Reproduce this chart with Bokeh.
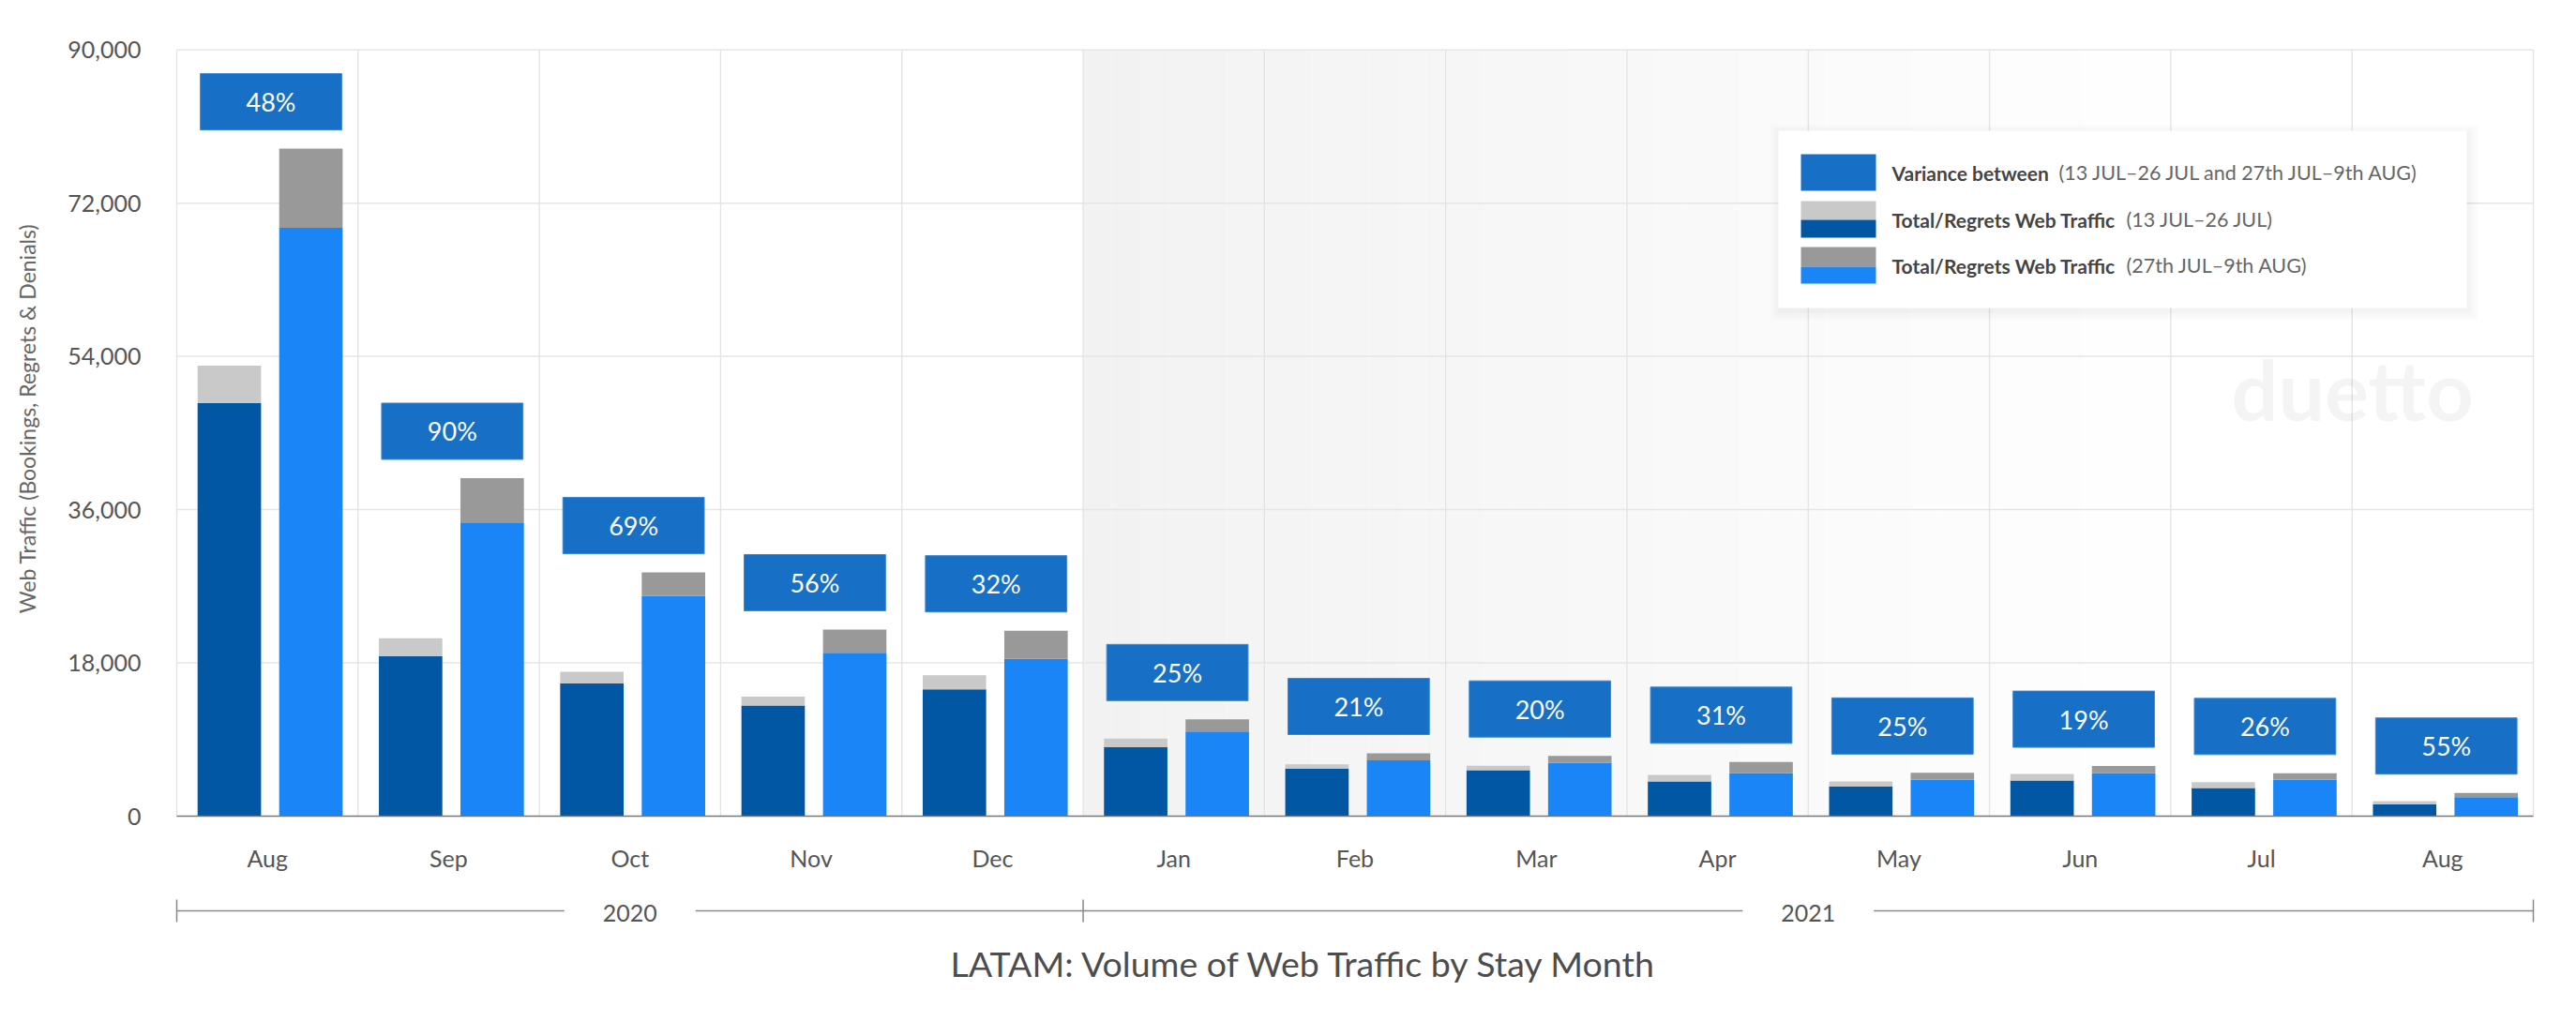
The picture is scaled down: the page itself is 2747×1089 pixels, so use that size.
import math
from bokeh.plotting import figure
from bokeh.models import Range1d, FixedTicker, ColumnDataSource, NumeralTickFormatter
from bokeh.embed import file_html
from bokeh.resources import INLINE
from bokeh.core.properties import value

# ---------------- data ----------------
months = ["Aug", "Sep", "Oct", "Nov", "Dec", "Jan", "Feb", "Mar", "Apr", "May", "Jun", "Jul", "Aug"]
# period 1 : 13 JUL-26 JUL   (blue part and total incl. regrets)
p1_traffic = [48500, 18800, 15600, 13000, 14900, 8100, 5580, 5400, 4080, 3490, 4190, 3300, 1400]
p1_total = [52900, 20900, 16950, 14050, 16550, 9110, 6090, 5910, 4850, 4070, 4960, 4000, 1760]
# period 2 : 27th JUL-9th AUG
p2_traffic = [69100, 34500, 25850, 19200, 18470, 9950, 6540, 6240, 5070, 4270, 5070, 4260, 2240]
p2_total = [78400, 39700, 28620, 21920, 21780, 11360, 7380, 7080, 6350, 5080, 5880, 5030, 2730]
variance_labels = ["48%", "90%", "69%", "56%", "32%", "25%", "21%", "20%", "31%", "25%", "19%", "26%", "55%"]
years = ["2020", "2021"]
year_first = [0, 5]
year_last = [4, 12]
y_ticks = [0, 18000, 36000, 54000, 72000, 90000]
legend_bold = ["Variance between", "Total/Regrets Web Traffic", "Total/Regrets Web Traffic"]
legend_rest = ["(13 JUL\u201326 JUL and 27th JUL\u20139th AUG)", "(13 JUL\u201326 JUL)", "(27th JUL\u20139th AUG)"]

# ---------------- layout (page pixels) ----------------
W, H = 2747, 1089
PL, PR = 188, 2701          # x of first / last category boundary
P90, P0 = 52.7, 870         # y of 90000 and of 0
YMAX = 90000.0
N = len(months)
UPP = YMAX / (P0 - P90)     # data units per px
PX = N / (PR - PL)          # data x per px


def X(px):
    return -0.5 + (px - PL) * PX


def Y(py):
    return (P0 - py) * UPP


FONT = value("Lato")
DARK_BLUE = "#0157a3"
LIGHT_BLUE = "#1985f7"
GRAY1 = "#c9c9c9"
GRAY2 = "#999999"
BOX = "#176fc6"
GRID = "#e6e6e6"

p = figure(width=W, height=H, output_backend="svg", toolbar_location=None,
           x_range=Range1d(X(0), X(W)), y_range=Range1d(Y(H), Y(0)),
           min_border_left=0, min_border_right=0, min_border_top=0, min_border_bottom=0, tools="")
p.outline_line_color = None
p.background_fill_color = "white"
p.border_fill_color = "white"
p.xgrid.visible = False
p.ygrid.visible = False

# y axis, pinned to the left boundary of the category area
p.yaxis.fixed_location = -0.5
p.yaxis.ticker = FixedTicker(ticks=y_ticks)
p.yaxis.formatter = NumeralTickFormatter(format="0,0")
p.yaxis.axis_line_color = None
p.yaxis.major_tick_line_color = None
p.yaxis.minor_tick_line_color = None
p.yaxis.major_tick_out = 0
p.yaxis.major_tick_in = 0
p.yaxis.major_label_standoff = 38
p.yaxis.major_label_text_font = "Lato"
p.yaxis.major_label_text_font_size = "25px"
p.yaxis.major_label_text_color = "#555555"

# x axis at y = 0 with month labels
p.xaxis.fixed_location = 0
p.xaxis.bounds = (-0.5, N - 0.5)
p.xaxis.ticker = FixedTicker(ticks=list(range(N)))
p.xaxis.major_label_overrides = {i: m for i, m in enumerate(months)}
p.xaxis.major_tick_line_color = None
p.xaxis.minor_tick_line_color = None
p.xaxis.major_tick_out = 0
p.xaxis.major_tick_in = 0
p.xaxis.axis_line_color = "#777777"
p.xaxis.axis_line_width = 1.5
p.xaxis.major_label_standoff = 29
p.xaxis.major_label_text_font = "Lato"
p.xaxis.major_label_text_font_size = "25px"
p.xaxis.major_label_text_color = "#555555"

# shaded gradient band for 2021 months
steps = 40
g_start, g_end = 4.5, 10.8
lefts, rights, cols = [], [], []
for k in range(steps):
    a = g_start + (g_end - g_start) * k / steps
    b = g_start + (g_end - g_start) * (k + 1) / steps
    v = int(round(242 + (255 - 242) * (k + 0.5) / steps))
    lefts.append(a)
    rights.append(b)
    cols.append("#%02x%02x%02x" % (v, v, v))
rg = p.quad(left=lefts, right=rights, bottom=0, top=YMAX, fill_color=cols, line_color=None)
rg.level = "image"

# horizontal grid lines
p.segment(x0=[-0.5] * len(y_ticks[1:]), y0=y_ticks[1:], x1=[N - 0.5] * len(y_ticks[1:]), y1=y_ticks[1:],
          line_color=GRID, line_width=1.5)
# vertical grid lines at category boundaries
bounds = [i - 0.5 for i in range(N + 1)]
p.segment(x0=bounds, y0=[0] * len(bounds), x1=bounds, y1=[YMAX] * len(bounds),
          line_color="#e3e3e3", line_width=1.3)

# watermark
p.text(x=[X(2379)], y=[Y(414)], text=["duetto"], text_font=FONT, text_font_style="bold",
       text_font_size=value("88px"), text_color="#000000", text_alpha=0.045,
       text_align="left", text_baseline="alphabetic")

# bars
idx = list(range(N))
src = ColumnDataSource(dict(
    x1=[i - 0.21 for i in idx], x2=[i + 0.24 for i in idx],
    t1=p1_traffic, tot1=p1_total, t2=p2_traffic, tot2=p2_total,
))
BW = 0.35
p.vbar(x="x1", width=BW, bottom=0, top="t1", source=src, fill_color=DARK_BLUE, line_color=None)
p.vbar(x="x1", width=BW, bottom="t1", top="tot1", source=src, fill_color=GRAY1, line_color=None)
p.vbar(x="x2", width=BW, bottom=0, top="t2", source=src, fill_color=LIGHT_BLUE, line_color=None)
p.vbar(x="x2", width=BW, bottom="t2", top="tot2", source=src, fill_color=GRAY2, line_color=None)

# variance boxes above each pair
GAP_PX, BOX_PX = 20, 60
box_bottom = [max(a, b) + GAP_PX * UPP for a, b in zip(p1_total, p2_total)]
box_top = [b + BOX_PX * UPP for b in box_bottom]
box_mid = [(a + b) / 2 for a, b in zip(box_bottom, box_top)]
bsrc = ColumnDataSource(dict(x=[i + 0.02 for i in idx], b=box_bottom, t=box_top, m=box_mid,
                             lab=variance_labels))
p.vbar(x="x", width=0.78, bottom="b", top="t", source=bsrc, fill_color=BOX, line_color="#3d86d0",
       line_width=1)
p.text(x="x", y="m", text="lab", source=bsrc, text_font=FONT, text_font_size=value("27px"),
       text_color="white", text_align="center", text_baseline="middle")

# year grouping line
gap = 70 * PX
yl = Y(971)
centers = [(f - 0.5 + l + 0.5) / 2 for f, l in zip(year_first, year_last)]
seg_x0 = [-0.5, centers[0] + gap, centers[1] + gap]
seg_x1 = [centers[0] - gap, centers[1] - gap, N - 0.5]
p.segment(x0=seg_x0, y0=[yl] * 3, x1=seg_x1, y1=[yl] * 3, line_color="#888888", line_width=1.5)
tick_x = [year_first[0] - 0.5, year_first[1] - 0.5, year_last[1] + 0.5]
p.segment(x0=tick_x, y0=[Y(959)] * 3, x1=tick_x, y1=[Y(983)] * 3, line_color="#888888",
          line_width=1.5)
p.text(x=centers, y=[Y(973)] * 2, text=years, text_font=FONT, text_font_size=value("25px"),
       text_color="#555555", text_align="center", text_baseline="middle")

# title
p.text(x=[X(1391)], y=[Y(1027)], text=["LATAM: Volume of Web Traffic by Stay Month"], text_font=FONT,
       text_font_size=value("37.5px"), text_color="#4d4d4d", text_align="center", text_baseline="middle")

# y axis title
p.text(x=[X(28)], y=[Y(446)], text=["Web Traffic (Bookings, Regrets & Denials)"], angle=math.pi / 2,
       text_font=FONT, text_font_size=value("23px"), text_color="#666666",
       text_align="center", text_baseline="middle")

# legend (manual, with split swatches)
LX0, LX1, LY0, LY1 = 1896, 2630, 139, 328
for a in [10, 7, 4, 2]:
    p.quad(left=[X(LX0 - a + 2)], right=[X(LX1 + a + 2)], top=[Y(LY0 - a + 3)], bottom=[Y(LY1 + a + 3)],
           fill_color="black", fill_alpha=0.012, line_color=None)
p.quad(left=[X(LX0)], right=[X(LX1)], top=[Y(LY0)], bottom=[Y(LY1)], fill_color="white",
       line_color=None)
SW0, SW1 = 1920, 2000
rows_top = [164, 214, 263]
rows_bot = [203, 253, 302]
rows_split = [None, 234, 284]
top_cols = [BOX, GRAY1, GRAY2]
bot_cols = [BOX, DARK_BLUE, LIGHT_BLUE]
for t, b, s, ct, cb in zip(rows_top, rows_bot, rows_split, top_cols, bot_cols):
    if s is None:
        p.quad(left=[X(SW0)], right=[X(SW1)], top=[Y(t)], bottom=[Y(b)], fill_color=ct, line_color=None)
    else:
        p.quad(left=[X(SW0)], right=[X(SW1)], top=[Y(t)], bottom=[Y(s)], fill_color=ct, line_color=None)
        p.quad(left=[X(SW0)], right=[X(SW1)], top=[Y(s)], bottom=[Y(b)], fill_color=cb, line_color=None)
row_mid = [(t + b) / 2 for t, b in zip(rows_top, rows_bot)]
rest_x = [2195, 2267, 2267]
p.text(x=[X(2017)] * 3, y=[Y(m) for m in row_mid], text=legend_bold, text_font=FONT,
       text_font_style="bold", text_font_size=value("21px"), text_color="#444444",
       text_align="left", text_baseline="middle")
p.text(x=[X(rx) for rx in rest_x], y=[Y(m) for m in row_mid], text=legend_rest, text_font=FONT,
       text_font_size=value("21.5px"), text_color="#666666", text_align="left", text_baseline="middle")

open("out.html", "w").write(file_html(p, INLINE))
